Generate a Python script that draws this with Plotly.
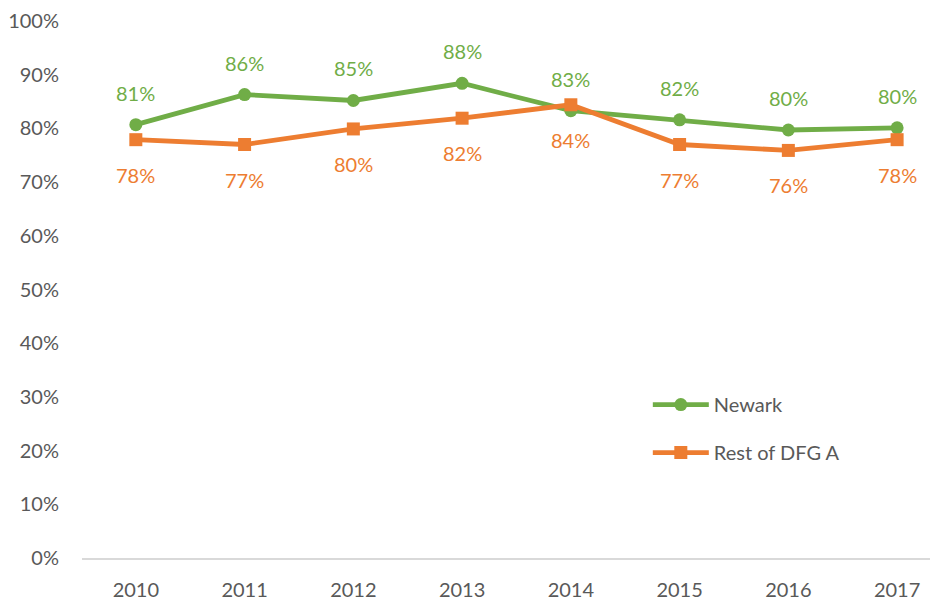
import plotly.graph_objects as go

years = ["2010", "2011", "2012", "2013", "2014", "2015", "2016", "2017"]
newark = [0.807, 0.863, 0.852, 0.884, 0.833, 0.816, 0.797, 0.801]
rest = [0.779, 0.770, 0.799, 0.819, 0.844, 0.770, 0.759, 0.779]
y_ticks = [0, 0.1, 0.2, 0.3, 0.4, 0.5, 0.6, 0.7, 0.8, 0.9, 1.0]

GREEN = "#70AD47"
ORANGE = "#ED7D31"
GRAY = "#595959"
FONT = "Lato"

fig = go.Figure()
fig.add_trace(go.Scatter(
    x=years, y=newark, name="Newark", mode="lines+markers", legendgroup="a",
    line=dict(color=GREEN, width=4.8),
    marker=dict(symbol="circle", size=13, color=GREEN),
))
fig.add_trace(go.Scatter(
    x=years, y=rest, name="Rest of DFG A", mode="lines+markers", legendgroup="b",
    line=dict(color=ORANGE, width=4.8),
    marker=dict(symbol="square", size=13, color=ORANGE),
))

# annotations placed on category index (numeric-looking category names)
for i, v in enumerate(newark):
    fig.add_annotation(x=i, y=v, xref="x", yref="y", text=f"{round(v*100)}%",
                       showarrow=False, yshift=32,
                       font=dict(color=GREEN, size=20, family=FONT))
for i, v in enumerate(rest):
    fig.add_annotation(x=i, y=v, xref="x", yref="y", text=f"{round(v*100)}%",
                       showarrow=False, yshift=-35,
                       font=dict(color=ORANGE, size=20, family=FONT))

fig.update_layout(
    width=930, height=596,
    margin=dict(l=72, r=0, t=8, b=46),
    paper_bgcolor="white", plot_bgcolor="white",
    font=dict(family=FONT, size=20, color=GRAY),
    showlegend=True,
    legend=dict(x=0.661, y=0.322, xanchor="left", yanchor="top",
                bgcolor="rgba(0,0,0,0)", font=dict(size=20, color=GRAY, family=FONT),
                tracegroupgap=19, itemwidth=56),
    xaxis=dict(type="category", range=[-0.495, 7.376], showgrid=False,
               showline=True, linecolor="#D9D9D9", linewidth=1.5,
               ticks="", ticklabelstandoff=13, zeroline=False),
    yaxis=dict(range=[0, 1], tickvals=y_ticks, tickformat=".0%",
               showgrid=False, zeroline=False, showline=False, ticks="",
               ticklabelstandoff=22, ticklabeloverflow="allow"),
)

fig.write_html("out.html")
